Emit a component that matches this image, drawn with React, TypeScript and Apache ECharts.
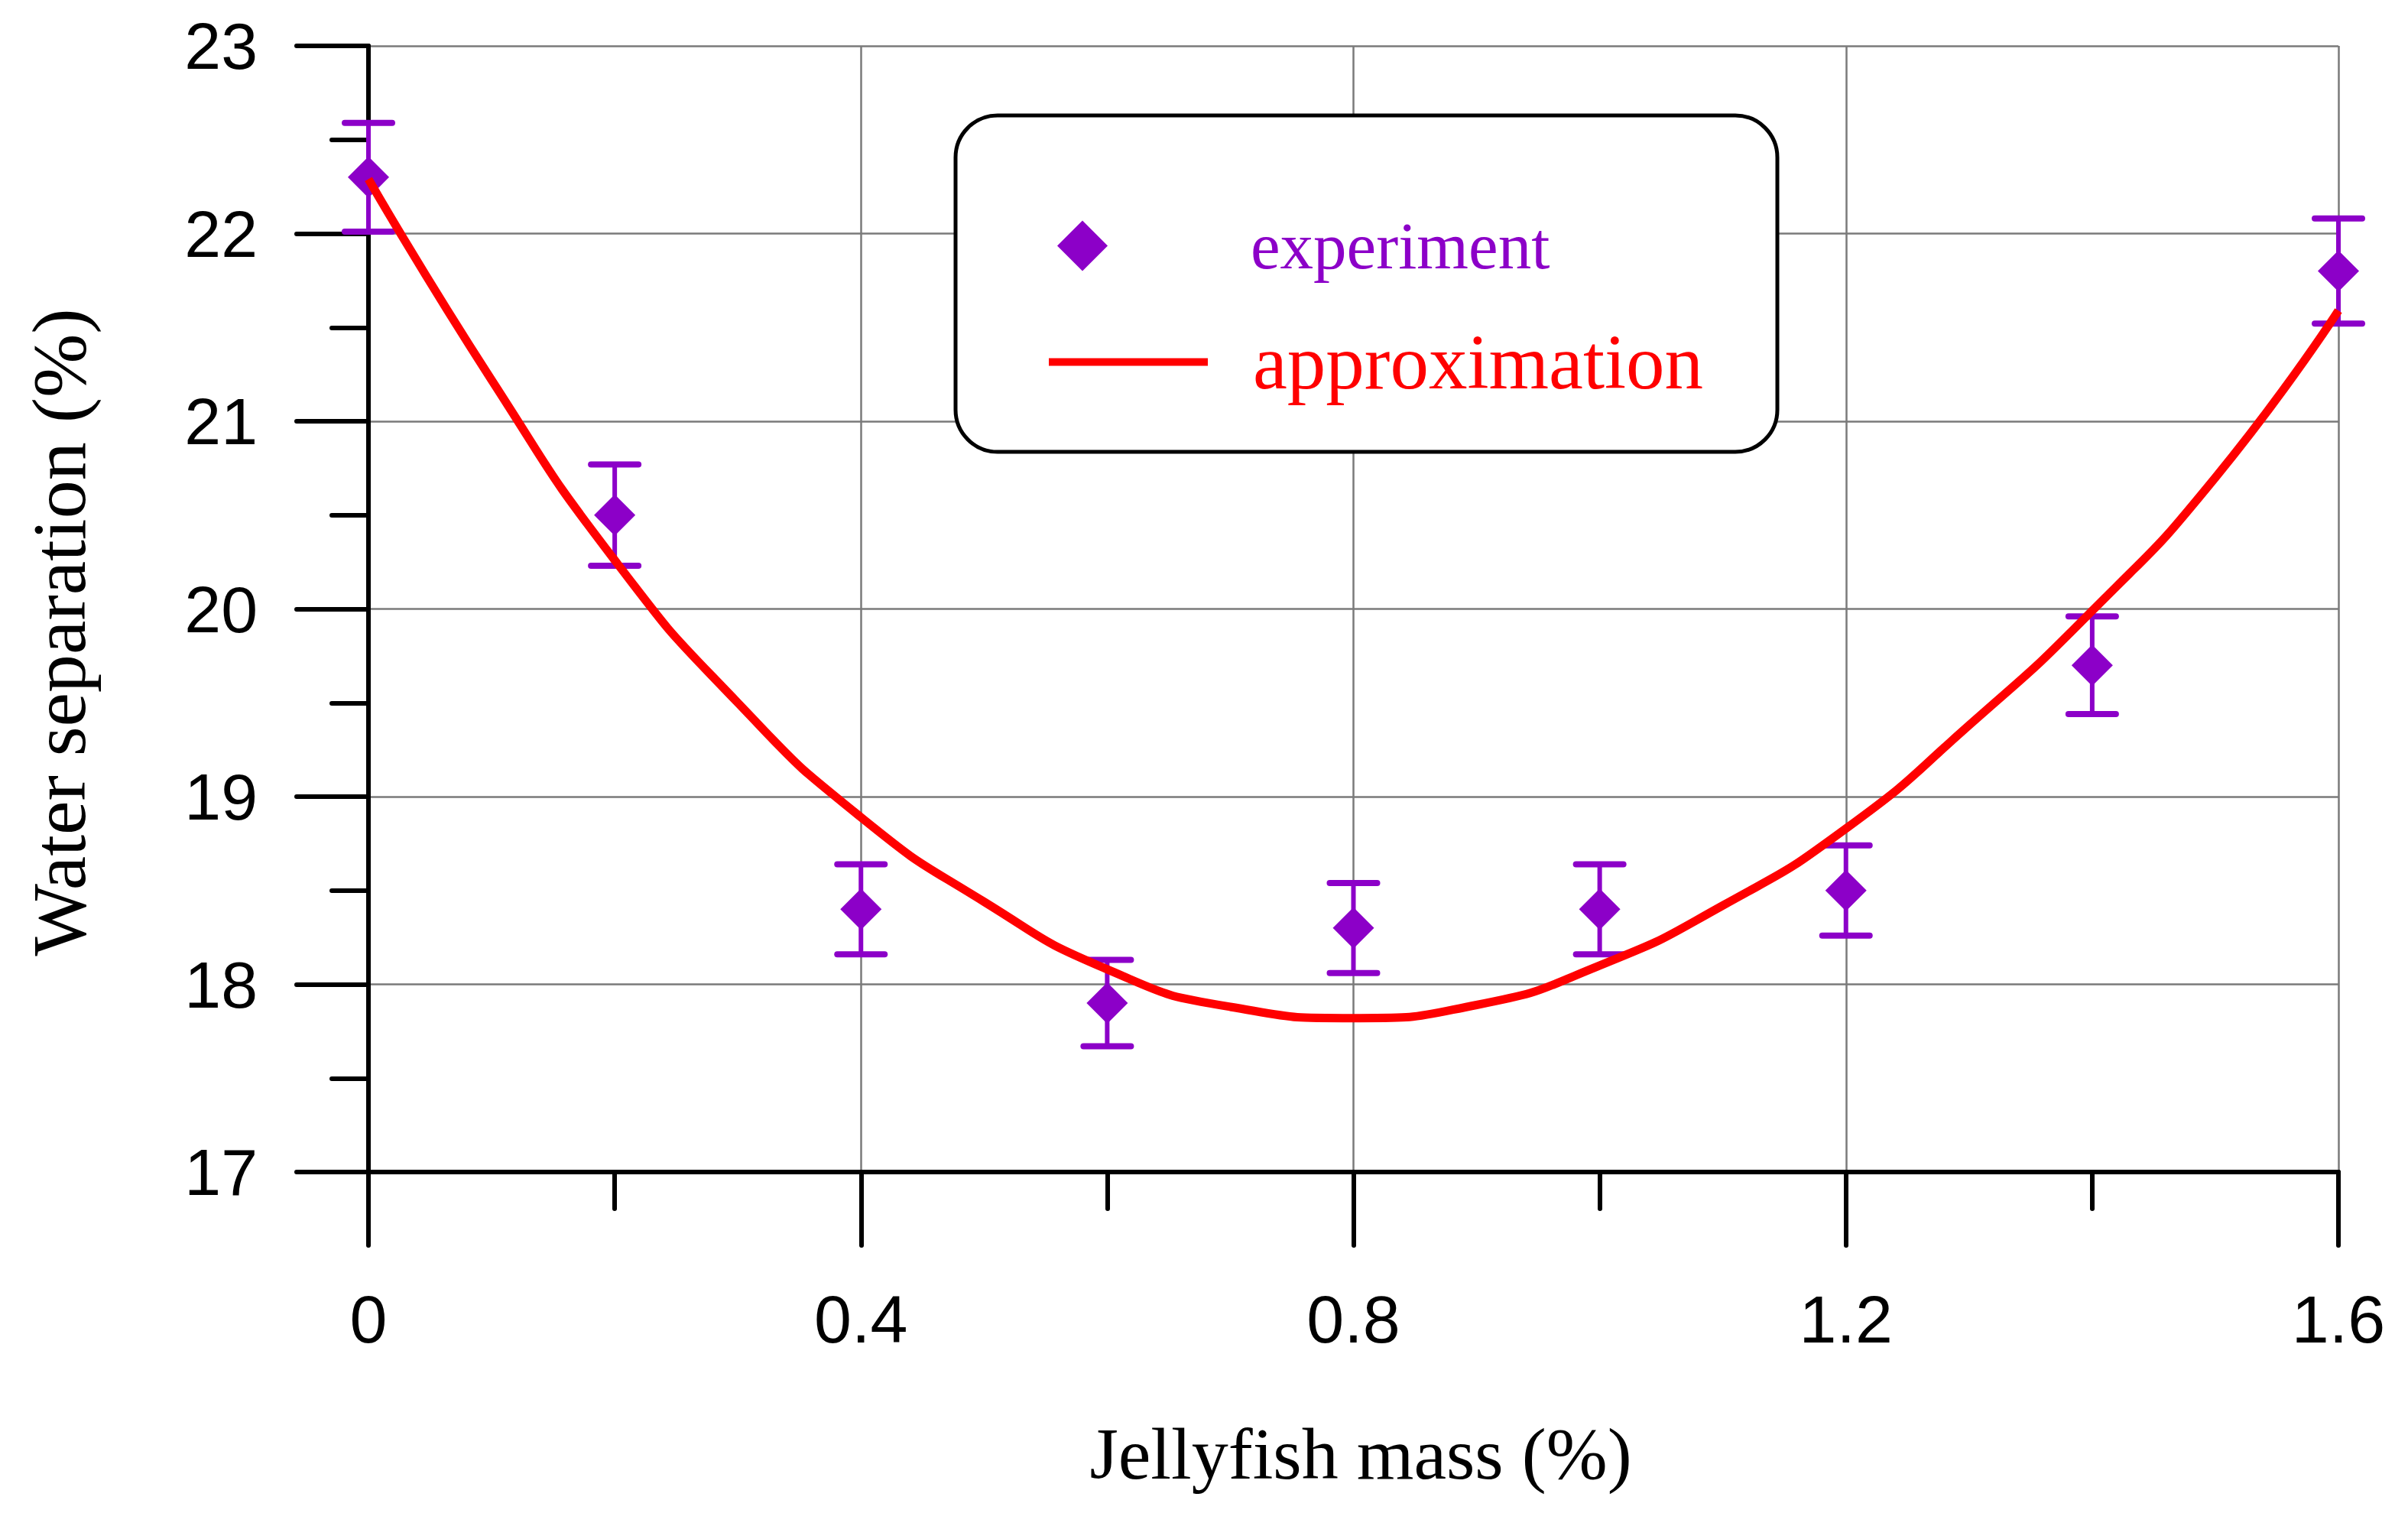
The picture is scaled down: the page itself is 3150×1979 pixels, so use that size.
import React, { useEffect, useRef } from 'react';
import * as echarts from 'echarts';

// measured points with error bars
const massValues = [0, 0.2, 0.4, 0.6, 0.8, 1.0, 1.2, 1.4, 1.6];
const separationValues = [22.3, 20.5, 18.4, 17.9, 18.3, 18.4, 18.5, 19.7, 21.8];
const errorValues = [0.29, 0.27, 0.24, 0.23, 0.24, 0.24, 0.24, 0.26, 0.28];

// approximation curve
const fitMass = [0, 0.1, 0.2, 0.3, 0.4, 0.5, 0.6, 0.7, 0.8, 0.9, 1.0, 1.1, 1.2, 1.3, 1.4, 1.5, 1.6];
const fitValues = [22.29, 21.22, 20.26, 19.5, 18.89, 18.44, 18.08, 17.88, 17.82, 17.89, 18.1, 18.42, 18.83, 19.38, 19.99, 20.7, 21.59];

const PURPLE = '#8c00c8';
const RED = '#ff0000';
const SANS = 'Liberation Sans';
const SERIF = 'Liberation Serif';

const App: React.FC = () => {
  const chartRef = useRef<HTMLDivElement>(null);

  useEffect(() => {
    if (!chartRef.current) return;
    const chart = echarts.init(chartRef.current, undefined, { renderer: 'svg' });

    const errorData = massValues.map((x, i) => [
      x,
      separationValues[i] - errorValues[i],
      separationValues[i] + errorValues[i],
    ]);
    const pointData = massValues.map((x, i) => [x, separationValues[i]]);
    const fitData = fitMass.map((x, i) => [x, fitValues[i]]);

    const tickLine = { color: '#000', width: 6, cap: 'round' as const };

    const option: any = {
      animation: false,
      backgroundColor: '#fff',
      grid: { left: 482, top: 60, right: 91, bottom: 446, containLabel: false },
      xAxis: {
        type: 'value',
        min: 0,
        max: 1.6,
        interval: 0.4,
        axisLine: { lineStyle: { color: '#000', width: 6 } },
        axisTick: { show: true, inside: false, length: 96, lineStyle: tickLine },
        minorTick: { show: true, splitNumber: 2, length: 48, lineStyle: tickLine },
        axisLabel: { color: '#000', fontFamily: SANS, fontSize: 88, margin: 148 },
        splitLine: { show: true, lineStyle: { color: '#7a7a7a', width: 2.5 } },
      },
      yAxis: {
        type: 'value',
        min: 17,
        max: 23,
        interval: 1,
        axisLine: { lineStyle: { color: '#000', width: 6 } },
        axisTick: { show: true, inside: false, length: 94, lineStyle: tickLine },
        minorTick: { show: true, splitNumber: 2, length: 48, lineStyle: tickLine },
        axisLabel: { color: '#000', fontFamily: SANS, fontSize: 86, margin: 145 },
        splitLine: { show: true, lineStyle: { color: '#7a7a7a', width: 2.5 } },
      },
      legend: [
        {
          data: [{ name: 'experiment', icon: 'diamond' }],
          left: 1383,
          top: 278,
          orient: 'vertical',
          padding: 0,
          itemWidth: 66,
          itemHeight: 66,
          selectedMode: false,
          z: 20,
          textStyle: { fontFamily: SERIF, fontSize: 87, color: PURPLE, padding: [0, 0, 0, 182] },
        },
        {
          data: [{ name: 'approximation', icon: 'rect' }],
          left: 1372,
          top: 423,
          orient: 'vertical',
          padding: 0,
          itemWidth: 208,
          itemHeight: 10,
          selectedMode: false,
          z: 20,
          itemStyle: { color: RED },
          textStyle: { fontFamily: SERIF, fontSize: 101, color: RED, padding: [0, 0, 0, 54] },
        },
      ],
      graphic: [
        {
          type: 'rect',
          z: 10,
          shape: { x: 1250, y: 151, width: 1075, height: 440, r: 55 },
          style: { fill: '#fff', stroke: '#000', lineWidth: 5 },
        },
        {
          type: 'text',
          x: 77,
          y: 827,
          rotation: Math.PI / 2,
          style: {
            text: 'Water separation (%)',
            fontFamily: SERIF,
            fontSize: 100,
            fill: '#000',
            align: 'center',
            verticalAlign: 'middle',
            textAlign: 'center',
            textVerticalAlign: 'middle',
          },
        },
        {
          type: 'text',
          x: 1780,
          y: 1901,
          style: {
            text: 'Jellyfish mass (%)',
            fontFamily: SERIF,
            fontSize: 96,
            fill: '#000',
            align: 'center',
            verticalAlign: 'middle',
            textAlign: 'center',
            textVerticalAlign: 'middle',
          },
        },
      ],
      series: [
        {
          name: 'error',
          type: 'custom',
          data: errorData,
          encode: { x: 0, y: [1, 2] },
          clip: false,
          renderItem: (_params: any, api: any) => {
            const x = api.value(0);
            const top = api.coord([x, api.value(2)]);
            const bottom = api.coord([x, api.value(1)]);
            const half = 31;
            const stem = { stroke: PURPLE, lineWidth: 6, fill: 'none' };
            const cap = { stroke: PURPLE, lineWidth: 8, lineCap: 'round', fill: 'none' };
            return {
              type: 'group',
              children: [
                { type: 'line', shape: { x1: top[0], y1: top[1], x2: bottom[0], y2: bottom[1] }, style: stem },
                { type: 'line', shape: { x1: top[0] - half, y1: top[1], x2: top[0] + half, y2: top[1] }, style: cap },
                { type: 'line', shape: { x1: bottom[0] - half, y1: bottom[1], x2: bottom[0] + half, y2: bottom[1] }, style: cap },
              ],
            };
          },
        },
        {
          name: 'experiment',
          type: 'scatter',
          data: pointData,
          symbol: 'diamond',
          symbolSize: [54, 54],
          clip: false,
          itemStyle: { color: PURPLE, opacity: 1 },
        },
        {
          name: 'approximation',
          type: 'line',
          data: fitData,
          smooth: 0.55,
          symbol: 'none',
          showSymbol: false,
          lineStyle: { color: RED, width: 11 },
          itemStyle: { color: RED },
        },
      ],
    };

    chart.setOption(option);

    return () => {
      chart.dispose();
    };
  }, []);

  return (
    <div
      ref={chartRef}
      style={{ position: 'fixed', left: 0, top: 0, width: '3150px', height: '1979px', background: '#fff' }}
    />
  );
};

export default App;
